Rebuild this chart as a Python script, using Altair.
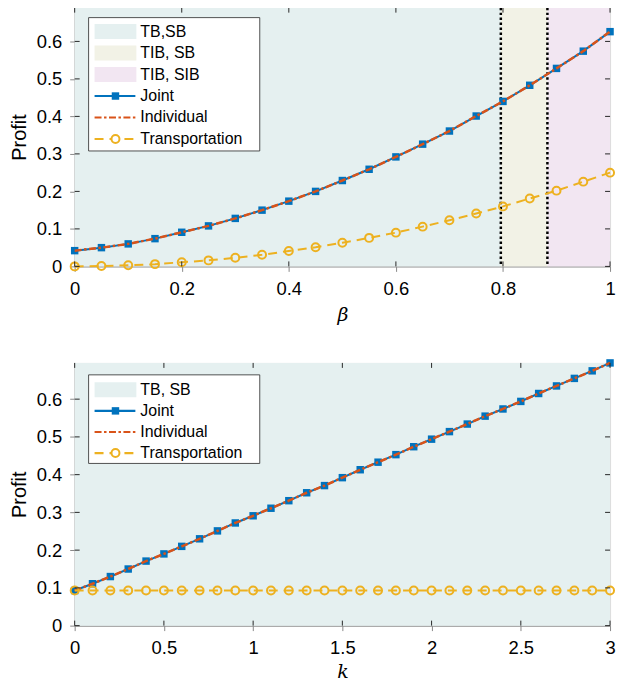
import altair as alt
import pandas as pd

# ---------------- data ----------------
beta = [0.00, 0.05, 0.10, 0.15, 0.20, 0.25, 0.30, 0.35, 0.40, 0.45, 0.50,
        0.55, 0.60, 0.65, 0.70, 0.75, 0.80, 0.85, 0.90, 0.95, 1.00]
joint_beta = [0.042, 0.050, 0.060, 0.074, 0.091, 0.108, 0.128, 0.150, 0.174, 0.200, 0.229,
              0.259, 0.292, 0.326, 0.361, 0.401, 0.440, 0.483, 0.528, 0.574, 0.626]
individual_beta = [0.042, 0.050, 0.060, 0.074, 0.091, 0.108, 0.128, 0.150, 0.174, 0.200, 0.229,
                   0.259, 0.292, 0.326, 0.361, 0.401, 0.440, 0.483, 0.528, 0.574, 0.626]
transport_beta = [0.000, 0.001, 0.003, 0.006, 0.011, 0.016, 0.023, 0.031, 0.041, 0.051, 0.063,
                  0.076, 0.090, 0.106, 0.123, 0.141, 0.160, 0.181, 0.202, 0.226, 0.250]

k_vals = [0.0, 0.1, 0.2, 0.3, 0.4, 0.5, 0.6, 0.7, 0.8, 0.9, 1.0, 1.1, 1.2, 1.3, 1.4, 1.5,
          1.6, 1.7, 1.8, 1.9, 2.0, 2.1, 2.2, 2.3, 2.4, 2.5, 2.6, 2.7, 2.8, 2.9, 3.0]
joint_k = [0.093, 0.111, 0.130, 0.150, 0.171, 0.190, 0.210, 0.230, 0.251, 0.272, 0.291,
           0.311, 0.331, 0.352, 0.371, 0.392, 0.413, 0.433, 0.453, 0.474, 0.494,
           0.514, 0.534, 0.555, 0.574, 0.594, 0.615, 0.635, 0.655, 0.675, 0.696]
individual_k = [0.093, 0.111, 0.130, 0.150, 0.171, 0.190, 0.210, 0.230, 0.251, 0.272, 0.291,
                0.311, 0.331, 0.352, 0.371, 0.392, 0.413, 0.433, 0.453, 0.474, 0.494,
                0.514, 0.534, 0.555, 0.574, 0.594, 0.615, 0.635, 0.655, 0.675, 0.696]
transport_k = [0.093, 0.093, 0.093, 0.093, 0.093, 0.093, 0.093, 0.093, 0.093, 0.093, 0.093,
               0.093, 0.093, 0.093, 0.093, 0.093, 0.093, 0.093, 0.093, 0.093, 0.093,
               0.093, 0.093, 0.093, 0.093, 0.093, 0.093, 0.093, 0.093, 0.093, 0.093]

region_labels_top = ["TB,SB", "TIB, SB", "TIB, SIB"]
region_start_top = [0.0, 0.796, 0.883]
region_end_top = [0.796, 0.883, 1.0]
divider_beta = [0.796, 0.883]

region_labels_bot = ["TB, SB"]
region_start_bot = [0.0]
region_end_bot = [3.0]

x_ticks_top = [0, 0.2, 0.4, 0.6, 0.8, 1]
x_ticks_bot = [0, 0.5, 1, 1.5, 2, 2.5, 3]
y_ticks = [0, 0.1, 0.2, 0.3, 0.4, 0.5, 0.6]

series_names = ["Joint", "Individual", "Transportation"]

# ---------------- styling ----------------
BLUE = "#0072BD"
ORANGE = "#D95319"
YELLOW = "#EDB120"
REGION_COLORS = ["#e5f0f0", "#f2f2e6", "#f2e6f2"]
AX = "#262626"
FONT = "Liberation Sans"
W = 538
IND_DASH = [7, 2.5, 2.5, 2.5]
TR_DASH = [9, 6]


def one():
    return pd.DataFrame({"a": [0]})


def panel(xs, joint, indiv, trans, labels, starts, ends, colors, dividers,
          x_dom, y_dom, x_ticks, H, x_title, title_pad, legend_box):
    df = pd.DataFrame({"x": xs, "joint": joint, "indiv": indiv, "trans": trans})
    xsc = alt.Scale(domain=x_dom, nice=False, zero=False)
    ysc = alt.Scale(domain=y_dom, nice=False)

    reg = pd.DataFrame({"label": labels, "start": starts, "end": ends})
    bg = alt.Chart(reg).mark_rect().encode(
        x=alt.X("start:Q", scale=xsc,
                axis=alt.Axis(values=x_ticks, format="~g", title=x_title,
                              labelFontSize=18.5, labelPadding=8,
                              titleFont="DejaVu Serif", titleFontStyle="italic",
                              titleFontWeight="normal", titleFontSize=19,
                              titlePadding=title_pad, labelFlush=False)),
        x2="end:Q",
        y=alt.value(0), y2=alt.value(H),
        color=alt.Color("label:N", scale=alt.Scale(domain=labels, range=colors),
                        legend=None),
    )

    layers = [bg]

    if dividers:
        dv = pd.DataFrame({"d": dividers})
        layers.append(alt.Chart(dv).mark_rule(color="black", strokeWidth=2.5,
                                              strokeDash=[2.5, 2.5]).encode(x=alt.X("d:Q", scale=xsc)))

    base = alt.Chart(df)
    yax = alt.Axis(values=y_ticks, format="~g", title="Profit", labelFontSize=18.5,
                   labelPadding=8, titleFontSize=20, titleFontWeight="normal",
                   titlePadding=7)
    layers.append(base.mark_line(color=BLUE, strokeWidth=2).encode(
        x=alt.X("x:Q", scale=xsc), y=alt.Y("joint:Q", scale=ysc, axis=yax)))
    layers.append(base.mark_square(color=BLUE, size=56, opacity=1).encode(
        x="x:Q", y="joint:Q"))
    layers.append(base.mark_line(color=ORANGE, strokeWidth=2.5,
                                 strokeDash=IND_DASH).encode(x="x:Q", y="indiv:Q"))
    layers.append(base.mark_line(color=YELLOW, strokeWidth=2,
                                 strokeDash=TR_DASH).encode(x="x:Q", y="trans:Q"))
    layers.append(base.mark_point(color=YELLOW, shape="circle", filled=False,
                                  size=64, strokeWidth=2, opacity=1).encode(
        x="x:Q", y="trans:Q"))

    # inward ticks on all four sides
    xt = alt.Chart(pd.DataFrame({"t": x_ticks}))
    yt = alt.Chart(pd.DataFrame({"t": y_ticks}))
    layers.append(xt.mark_rule(color=AX, strokeWidth=1).encode(
        x="t:Q", y=alt.value(H), y2=alt.value(H - 5)))
    layers.append(xt.mark_rule(color=AX, strokeWidth=1).encode(
        x="t:Q", y=alt.value(0), y2=alt.value(5)))
    layers.append(yt.mark_rule(color=AX, strokeWidth=1).encode(
        y="t:Q", x=alt.value(0), x2=alt.value(5)))
    layers.append(yt.mark_rule(color=AX, strokeWidth=1).encode(
        y="t:Q", x=alt.value(W), x2=alt.value(W - 5)))

    # manual legend (MATLAB style)
    bx0, bx1, by0, by1, ry0, dy = legend_box
    layers.append(alt.Chart(one()).mark_rect(fill="white", stroke=AX, strokeWidth=0.8).encode(
        x=alt.value(bx0), x2=alt.value(bx1), y=alt.value(by0), y2=alt.value(by1)))
    row = 0
    for lab, col in zip(labels, colors):
        yc = ry0 + row * dy
        layers.append(alt.Chart(one()).mark_rect(fill=col).encode(
            x=alt.value(bx0 + 6), x2=alt.value(bx0 + 48),
            y=alt.value(yc - 7.5), y2=alt.value(yc + 7.5)))
        layers.append(alt.Chart(one()).mark_text(
            text=lab, font=FONT, fontSize=16, align="left", baseline="middle",
            color="black").encode(x=alt.value(bx0 + 52), y=alt.value(yc)))
        row += 1
    styles = [(BLUE, None, "square"), (ORANGE, IND_DASH, None), (YELLOW, TR_DASH, "circle")]
    for name, (col, dash, mk) in zip(series_names, styles):
        yc = ry0 + row * dy
        kw = {"color": col, "strokeWidth": 2.2}
        if dash:
            kw["strokeDash"] = dash
        layers.append(alt.Chart(one()).mark_rule(**kw).encode(
            x=alt.value(bx0 + 6), x2=alt.value(bx0 + 47), y=alt.value(yc)))
        if mk == "square":
            layers.append(alt.Chart(one()).mark_square(color=col, size=56, opacity=1).encode(
                x=alt.value(bx0 + 27), y=alt.value(yc)))
        elif mk == "circle":
            layers.append(alt.Chart(one()).mark_point(
                color=col, shape="circle", filled=False, fill="white", size=64,
                strokeWidth=2, opacity=1).encode(x=alt.value(bx0 + 27), y=alt.value(yc)))
        layers.append(alt.Chart(one()).mark_text(
            text=name, font=FONT, fontSize=16, align="left", baseline="middle",
            color="black").encode(x=alt.value(bx0 + 52), y=alt.value(yc)))
        row += 1

    return alt.layer(*layers).properties(width=W, height=H)


top = panel(beta, joint_beta, individual_beta, transport_beta,
            region_labels_top, region_start_top, region_end_top, REGION_COLORS,
            divider_beta, [0, 1], [0, 0.69], x_ticks_top, 260, "β", 8,
            (14, 186, 10, 144, 24, 21.6))
bot = panel(k_vals, joint_k, individual_k, transport_k,
            region_labels_bot, region_start_bot, region_end_bot, REGION_COLORS[:1],
            [], [0, 3], [0, 0.696], x_ticks_bot, 264, "k", 6,
            (14, 186, 12, 101, 27, 21.2))

chart = alt.vconcat(top, bot, spacing=97, bounds="flush").properties(
    padding={"left": 0, "top": -4, "right": 0, "bottom": 0}
).configure_axis(
    labelFont=FONT, titleFont=FONT, labelColor=AX, titleColor=AX,
    ticks=False, domain=False, grid=False, minExtent=37,
).configure_view(stroke="#555555", strokeWidth=1).configure(background="white")

chart.save("out.html", embed_options={"renderer": "svg", "actions": False})
